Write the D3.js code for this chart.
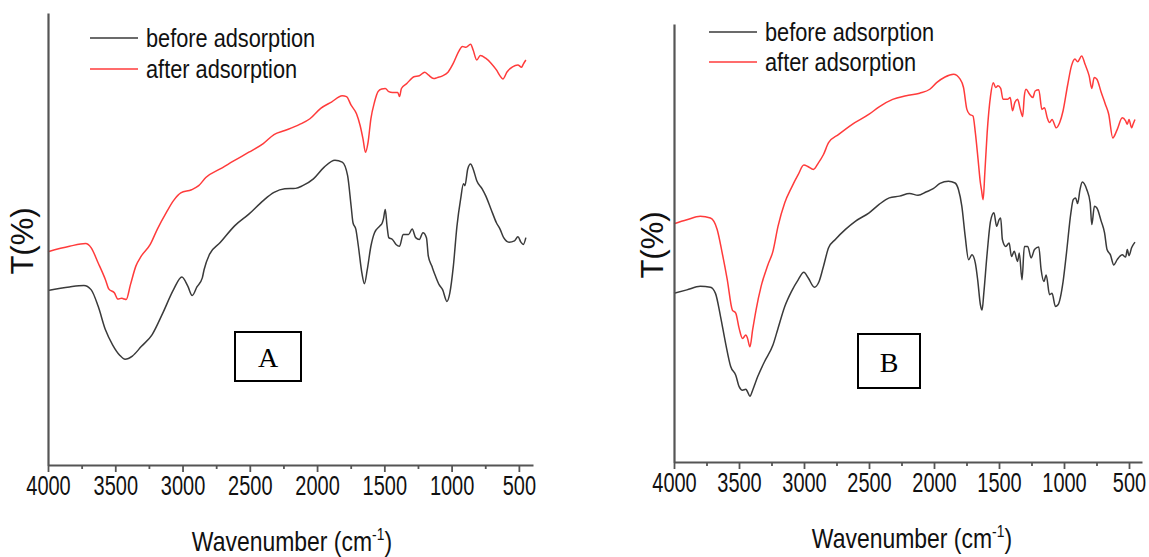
<!DOCTYPE html>
<html><head><meta charset="utf-8">
<script src="https://cdn.jsdelivr.net/npm/d3@7"></script>
<style>body{margin:0;background:#fff}svg{display:block}</style>
</head><body>
<svg id="c" width="1149" height="557"></svg>
<script>
// ---- data (wavenumber cm^-1, transmittance in arbitrary % units) ----
const majorTicks = [4000,3500,3000,2500,2000,1500,1000,500];
const minorTicks = [3750,3250,2750,2250,1750,1250,750];
const seriesNames = ["before adsorption","after adsorption"];
const panelLabels = ["A","B"];

const aBeforeWn = [4000,3840,3733,3680,3627,3573,3520,3467,3427,3373,3307,3227,3147,3067,3005,2960,2928,2893,2853,2840,2800,2720,2613,2507,2400,2320,2240,2160,2107,2027,1947,1867,1813,1773,1747,1733,1712,1693,1667,1648,1627,1600,1573,1533,1515,1507,1493,1480,1467,1440,1413,1387,1360,1320,1293,1267,1240,1213,1187,1173,1147,1120,1093,1067,1035,1013,987,960,933,912,901,880,859,840,813,773,747,707,667,640,613,573,533,507,485,467,448];
const aBeforeT = [38.6,39.4,39.7,38.8,35.1,29.9,26.6,24.3,23.4,24.1,26.2,28.8,33.6,38.8,41.6,39.5,37.5,39.4,41.4,43.2,46.6,49.2,52.9,55.5,58.5,60.3,61.1,61.2,61.8,63.3,65.9,67.4,67.0,64.0,57.3,53.6,52.2,48.4,42.5,40.1,43.2,48.4,51.4,52.9,53.6,54.4,56.5,52.9,50.3,49.9,48.8,48.4,51.0,51.0,52.2,50.3,49.9,51.4,50.3,46.2,44.0,41.8,39.9,38.8,36.2,38.1,44.0,52.9,58.8,62.2,61.8,65.5,66.6,65.5,62.9,61.1,59.6,56.6,53.6,52.2,50.3,49.3,49.6,50.5,49.3,48.8,50.3];

const aAfterWn = [4000,3840,3720,3680,3627,3573,3547,3507,3480,3453,3440,3419,3387,3347,3307,3240,3187,3120,3067,3013,2933,2880,2827,2720,2613,2507,2400,2320,2240,2133,2053,1973,1893,1813,1781,1747,1707,1680,1659,1640,1621,1600,1573,1547,1520,1493,1467,1440,1400,1387,1373,1333,1280,1240,1200,1173,1133,1107,1067,1027,987,947,920,893,859,840,813,787,747,707,667,640,619,587,547,507,480,467,448];
const aAfterT = [47.2,48.4,49.0,48.1,44.7,41.0,38.9,38.1,36.7,36.9,36.8,36.6,39.9,44.0,46.2,48.8,52.2,55.9,58.5,60.2,60.9,61.8,63.6,65.5,67.4,69.2,71.1,73.1,74.0,75.3,76.6,78.9,80.3,81.7,81.5,79.6,77.7,75.1,72.2,69.2,71.4,76.6,80.3,82.6,83.2,83.3,82.6,82.4,82.4,81.5,83.3,84.4,85.9,86.1,86.9,86.3,85.5,85.7,86.1,86.9,88.9,91.5,92.6,92.4,93.1,91.8,89.6,90.6,90.0,88.9,87.4,86.1,85.4,87.0,88.1,88.5,88.0,88.7,89.6];

const bBeforeWn = [4000,3901,3798,3720,3681,3642,3603,3564,3525,3499,3473,3447,3434,3416,3395,3356,3304,3239,3200,3148,3097,3045,3001,2967,2920,2884,2850,2811,2759,2681,2603,2499,2422,2344,2266,2188,2123,2058,2006,1954,1889,1838,1812,1786,1760,1734,1708,1682,1664,1643,1630,1617,1591,1565,1539,1518,1500,1487,1474,1448,1422,1404,1383,1357,1344,1323,1305,1279,1253,1227,1194,1176,1155,1137,1111,1092,1066,1046,1007,981,947,929,911,895,877,859,825,799,786,766,747,714,688,669,643,617,591,552,526,513,500,480,454];
const bBeforeT = [38.5,39.3,40.1,39.9,38.5,33.2,27.1,21.8,19.8,17.2,16.4,16.6,16.0,15.0,16.4,19.5,22.9,26.7,30.5,35.5,38.9,41.6,43.3,42.0,39.9,41.2,44.7,48.9,50.8,53.1,55.0,56.9,58.8,60.3,60.7,61.3,60.9,61.7,62.4,63.6,64.1,63.7,62.2,58.4,51.5,46.2,47.3,45.4,41.6,35.9,34.7,38.5,47.7,55.0,56.9,53.8,55.3,55.7,50.8,49.2,50.0,46.9,48.1,45.8,47.7,41.6,49.2,49.2,46.6,48.5,49.1,43.9,41.2,42.7,38.2,38.5,35.5,35.9,41.2,47.7,56.9,59.9,60.3,59.0,62.2,63.9,62.2,59.2,54.2,58.4,58.0,55.0,52.3,48.5,47.3,45.0,46.2,47.3,46.8,48.5,47.1,48.9,50.2];

const bAfterWn = [4000,3901,3798,3720,3668,3629,3590,3551,3525,3499,3473,3447,3434,3416,3395,3369,3330,3278,3239,3200,3148,3097,3045,3001,2967,2928,2889,2850,2811,2733,2629,2499,2422,2318,2214,2110,2032,1980,1915,1850,1799,1773,1747,1726,1700,1682,1661,1643,1635,1622,1609,1591,1565,1544,1526,1508,1487,1469,1435,1414,1396,1378,1357,1336,1318,1305,1292,1266,1240,1222,1194,1170,1150,1129,1111,1092,1059,1033,1007,973,942,916,895,864,838,807,786,768,747,714,682,656,625,591,552,526,513,500,480,469,454];
const bAfterT = [54.4,55.3,56.1,55.7,53.1,47.7,41.6,34.7,34.0,30.5,28.2,29.0,28.2,26.3,30.2,34.7,40.1,45.0,48.1,53.8,59.2,62.6,65.6,67.8,67.4,66.8,68.3,70.2,72.9,74.8,77.1,79.4,81.1,82.8,83.6,84.2,85.1,86.6,87.9,88.5,87.4,85.5,80.5,79.4,79.0,75.2,69.1,63.7,62.2,59.9,66.0,75.2,83.6,86.6,85.5,85.9,85.3,82.8,82.8,83.2,80.2,82.1,82.8,80.5,78.9,83.6,85.1,84.0,83.2,84.7,85.0,80.5,80.9,78.6,77.5,78.2,76.3,77.5,80.2,85.9,90.5,92.0,91.4,92.7,90.8,88.2,85.3,87.8,87.4,84.4,81.7,79.4,74.0,75.9,78.6,77.9,77.1,78.2,76.3,77.1,78.2];

// ---- drawing ----
const svg = d3.select("#c");
const colors = ["#3a3a3a", "#ff3b3b"];
const fontSans = "'Liberation Sans', Arial, sans-serif";

const panels = [
  {x0:48, x1:533, top:13, bottom:465, wnEnd:395, before:[aBeforeWn,aBeforeT], after:[aAfterWn,aAfterT],
   legX:90, legY:38, legGap:31, box:[235,332,66,49], titleX:292, yLabX:22},
  {x0:674, x1:1142, top:24, bottom:462, wnEnd:400, before:[bBeforeWn,bBeforeT], after:[bAfterWn,bAfterT],
   legX:709, legY:32, legGap:30, box:[858,334,62,54], titleX:912, yLabX:652}
];

panels.forEach((p, pi) => {
  const x = d3.scaleLinear().domain([4000, p.wnEnd]).range([p.x0, p.x1]);
  const y = d3.scaleLinear().domain([0, 100]).range([p.bottom, p.top]);
  const g = svg.append("g");

  const line = d3.line().x(d => x(d[0])).y(d => y(d[1])).curve(d3.curveMonotoneX);
  [p.before, p.after].forEach((s, si) => {
    const pts = s[0].map((w, i) => [w, s[1][i]]);
    g.append("path").datum(pts).attr("d", line)
      .attr("fill", "none").attr("stroke", colors[si]).attr("stroke-width", 1.5)
      .attr("stroke-linejoin", "round");
  });

  // x axis (major + minor)
  const ax = g.append("g").attr("transform", `translate(0,${p.bottom})`)
    .call(d3.axisBottom(x).tickValues(majorTicks).tickSize(7).tickSizeOuter(0).tickFormat(d3.format("d")));
  ax.select(".domain").attr("stroke", "#555").attr("stroke-width", 2.2);
  ax.selectAll(".tick line").attr("stroke", "#555").attr("stroke-width", 1.8);
  ax.selectAll(".tick text").attr("font-family", fontSans).attr("font-size", 27)
    .attr("fill", "#111").attr("y", 11).attr("dy", "0.71em").attr("x", 0)
    .attr("transform", "scale(0.74,1)");
  const axm = g.append("g").attr("transform", `translate(0,${p.bottom})`)
    .call(d3.axisBottom(x).tickValues(minorTicks).tickSize(4).tickSizeOuter(0).tickFormat(""));
  axm.select(".domain").remove();
  axm.selectAll(".tick line").attr("stroke", "#555").attr("stroke-width", 1.8);

  // y axis (no ticks)
  const ay = g.append("g").attr("transform", `translate(${p.x0},0)`)
    .call(d3.axisLeft(y).tickValues([]).tickSizeOuter(0));
  ay.select(".domain").attr("stroke", "#555").attr("stroke-width", 2.2);

  // axis titles
  const tt = g.append("text").attr("transform", `translate(${p.titleX},${p.bottom + 86}) scale(0.82,1)`)
    .attr("text-anchor", "middle").attr("font-family", fontSans).attr("font-size", 28).attr("fill", "#111");
  tt.append("tspan").text("Wavenumber (cm");
  tt.append("tspan").attr("font-size", 17).attr("dy", -11).text("-1");
  tt.append("tspan").attr("dy", 11).text(")");

  g.append("text").attr("transform", `translate(${p.yLabX},${(p.top + p.bottom) / 2 + 2}) rotate(-90)`)
    .attr("text-anchor", "middle").attr("dy", "0.36em").attr("font-family", fontSans)
    .attr("font-size", 31).attr("fill", "#111").text("T(%)");

  // legend
  seriesNames.forEach((n, i) => {
    const ly = p.legY + i * p.legGap;
    g.append("line").attr("x1", p.legX).attr("x2", p.legX + 48).attr("y1", ly).attr("y2", ly)
      .attr("stroke", colors[i]).attr("stroke-width", 1.5);
    g.append("text").attr("transform", `translate(${p.legX + 56},${ly}) scale(0.87,1)`)
      .attr("dy", "0.35em").attr("font-family", fontSans).attr("font-size", 25).attr("fill", "#111").text(n);
  });

  // panel label box
  const b = p.box;
  g.append("rect").attr("x", b[0]).attr("y", b[1]).attr("width", b[2]).attr("height", b[3])
    .attr("fill", "#fff").attr("stroke", "#000").attr("stroke-width", 2);
  g.append("text").attr("x", b[0] + b[2] / 2).attr("y", b[1] + b[3] / 2 + 1).attr("dy", "0.35em")
    .attr("text-anchor", "middle").attr("font-family", "'Liberation Serif', 'Times New Roman', serif")
    .attr("font-size", 28).attr("fill", "#000").text(panelLabels[pi]);
});
</script>
</body></html>
